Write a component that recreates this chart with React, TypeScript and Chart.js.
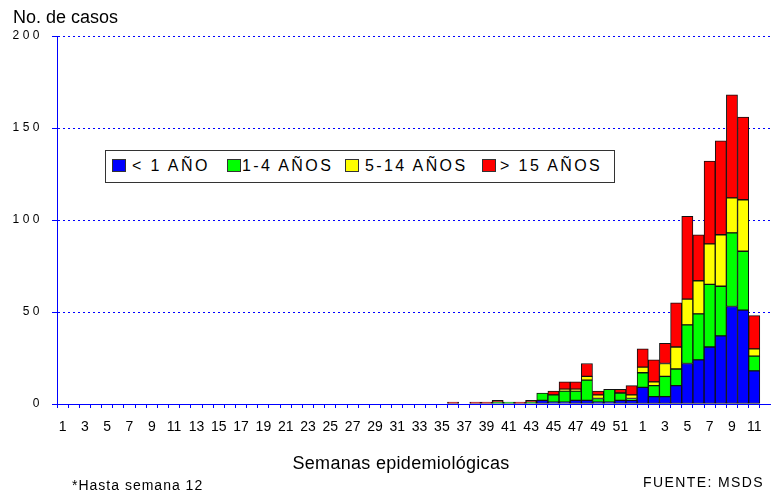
import React, { useEffect, useRef } from "react";
import { Chart, registerables, LinearScale } from "chart.js";

class SpacedLinearScale extends LinearScale {
  static id = "spacedLinear";
  static defaults = LinearScale.defaults;
  drawLabels(chartArea: any) {
    const ctx: any = (this as any).ctx;
    ctx.save();
    ctx.letterSpacing = "3.5px";
    super.drawLabels(chartArea);
    ctx.restore();
  }
}

Chart.register(...registerables, SpacedLinearScale as any);

// Epidemiological weeks: 52 weeks of year 1, then weeks 1-12 of year 2
const weekLabels = [
  "1", "2", "3", "4", "5", "6", "7", "8", "9", "10",
  "11", "12", "13", "14", "15", "16", "17", "18", "19", "20",
  "21", "22", "23", "24", "25", "26", "27", "28", "29", "30",
  "31", "32", "33", "34", "35", "36", "37", "38", "39", "40",
  "41", "42", "43", "44", "45", "46", "47", "48", "49", "50",
  "51", "52",
  "1", "2", "3", "4", "5", "6", "7", "8", "9", "10", "11", "12",
];

const menor1 = [
  0, 0, 0, 0, 0, 0, 0, 0, 0, 0,
  0, 0, 0, 0, 0, 0, 0, 0, 0, 0,
  0, 0, 0, 0, 0, 0, 0, 0, 0, 0,
  0, 0, 0, 0, 0, 0, 0, 0, 0, 0,
  0, 0, 0, 2, 1, 1, 2, 2, 1, 1,
  2, 2,
  9, 4, 4, 10, 22, 24, 31, 37, 53, 51, 18, 0,
];

const de1a4 = [
  0, 0, 0, 0, 0, 0, 0, 0, 0, 0,
  0, 0, 0, 0, 0, 0, 0, 0, 0, 0,
  0, 0, 0, 0, 0, 0, 0, 0, 0, 0,
  0, 0, 0, 0, 0, 0, 0, 0, 0, 1,
  1, 0, 1, 4, 4, 6, 5, 11, 2, 7,
  4, 1,
  8, 6, 11, 9, 21, 25, 34, 27, 40, 32, 8, 0,
];

const de5a14 = [
  0, 0, 0, 0, 0, 0, 0, 0, 0, 0,
  0, 0, 0, 0, 0, 0, 0, 0, 0, 0,
  0, 0, 0, 0, 0, 0, 0, 0, 0, 0,
  0, 0, 0, 0, 0, 0, 0, 0, 0, 0,
  0, 0, 0, 0, 0, 1, 1, 2, 2, 0,
  0, 2,
  3, 2, 7, 12, 14, 18, 22, 28, 19, 28, 4, 0,
];

const mayor15 = [
  0, 0, 0, 0, 0, 0, 0, 0, 0, 0,
  0, 0, 0, 0, 0, 0, 0, 0, 0, 0,
  0, 0, 0, 0, 0, 0, 0, 0, 0, 0,
  0, 0, 0, 0, 0, 1, 0, 1, 1, 1,
  0, 1, 1, 0, 2, 4, 4, 7, 2, 0,
  2, 5,
  10, 12, 11, 24, 45, 25, 45, 51, 56, 45, 18, 0,
];

const seriesNames = ["< 1 AÑO", "1-4 AÑOS", "5-14 AÑOS", "> 15 AÑOS"];
const seriesColors = ["#0000ff", "#00ff00", "#ffff00", "#ff0000"];
const yTicks = [0, 50, 100, 150, 200];

const FONT = "'Liberation Sans', Arial, Helvetica, sans-serif";
const BLUE = "#0000ff";

export default function App() {
  const canvasRef = useRef<HTMLCanvasElement | null>(null);

  useEffect(() => {
    document.body.style.margin = "0";
    const canvas = canvasRef.current;
    if (!canvas) return;
    const allSeries = [menor1, de1a4, de5a14, mayor15];
    const chart = new Chart(canvas, {
      type: "bar",
      data: {
        labels: weekLabels,
        datasets: allSeries.map((vals, i) => ({
          label: seriesNames[i],
          data: vals.map((v) => (v === 0 ? null : v)),
          backgroundColor: seriesColors[i],
          borderColor: "#111111",
          borderWidth: 1,
          borderSkipped: false,
          barPercentage: 1,
          categoryPercentage: 1,
        })),
      },
      options: {
        responsive: false,
        devicePixelRatio: 1,
        animation: false,
        events: [],
        layout: { padding: { top: 36, right: 0, left: 0, bottom: 0 } },
        plugins: {
          legend: { display: false },
          tooltip: { enabled: false },
          title: { display: false },
        },
        scales: {
          x: {
            stacked: true,
            offset: true,
            afterFit: (scale: any) => {
              scale.height = 88;
              scale.paddingRight = 0;
            },
            grid: {
              display: true,
              offset: true,
              drawOnChartArea: false,
              drawTicks: true,
              tickLength: 4,
              color: BLUE,
              tickColor: BLUE,
              tickBorderDash: [],
            },
            border: { display: true, color: BLUE, width: 1 },
            ticks: {
              autoSkip: false,
              maxRotation: 0,
              minRotation: 0,
              padding: 11,
              color: "#000",
              font: { family: FONT, size: 14 },
              callback: (_v: any, idx: number) => (idx % 2 === 0 ? weekLabels[idx] : ""),
            },
          },
          y: {
            type: "spacedLinear" as any,
            stacked: true,
            min: 0,
            max: 200,
            afterFit: (scale: any) => {
              scale.width = 57;
            },
            afterBuildTicks: (scale: any) => {
              scale.ticks = yTicks.map((v) => ({ value: v }));
            },
            grid: {
              display: true,
              drawOnChartArea: true,
              drawTicks: true,
              tickLength: 5,
              color: BLUE,
              tickColor: BLUE,
              tickBorderDash: [],
              lineWidth: 1,
            },
            border: { display: true, color: BLUE, width: 1, dash: [2, 3] },
            ticks: {
              padding: 9,
              color: "#000",
              font: { family: FONT, size: 12 },
              callback: (v: any) => String(v),
            },
          },
        },
      } as any,
    });
    return () => chart.destroy();
  }, []);

  const legendKeys = [112, 227, 345, 482];
  const legendTexts = [132, 242, 365, 500];

  return (
    <div
      style={{
        position: "absolute",
        left: 0,
        top: 0,
        width: 771,
        height: 492,
        background: "#fff",
        fontFamily: FONT,
        color: "#000",
        overflow: "hidden",
      }}
    >
      <canvas ref={canvasRef} width={771} height={492} style={{ position: "absolute", left: 0, top: 0, width: 771, height: 492 }} />
      <div style={{ position: "absolute", left: 13, top: 7.5, fontSize: 18, lineHeight: 1, whiteSpace: "nowrap" }}>No. de casos</div>
      <div style={{ position: "absolute", left: 292.5, top: 453.5, fontSize: 18, lineHeight: 1, letterSpacing: "0.3px", whiteSpace: "nowrap" }}>
        Semanas epidemiológicas
      </div>
      <div style={{ position: "absolute", left: 72, top: 478, fontSize: 14, lineHeight: 1, letterSpacing: "1px", whiteSpace: "nowrap" }}>
        *Hasta semana 12
      </div>
      <div style={{ position: "absolute", left: 643, top: 475, fontSize: 14, lineHeight: 1, letterSpacing: "1.4px", whiteSpace: "nowrap" }}>
        FUENTE: MSDS
      </div>
      <div
        style={{
          position: "absolute",
          left: 105,
          top: 150,
          width: 510,
          height: 33,
          boxSizing: "border-box",
          border: "1px solid #333",
          background: "#fff",
        }}
      />
      {seriesNames.map((name, i) => (
        <React.Fragment key={name}>
          <div
            style={{
              position: "absolute",
              left: legendKeys[i],
              top: 159,
              width: 14,
              height: 13,
              boxSizing: "border-box",
              border: "1px solid #333",
              background: seriesColors[i],
            }}
          />
          <div
            style={{
              position: "absolute",
              left: legendTexts[i],
              top: 158.2,
              fontSize: 16,
              lineHeight: 1,
              letterSpacing: "2.4px",
              whiteSpace: "nowrap",
            }}
          >
            {name}
          </div>
        </React.Fragment>
      ))}
    </div>
  );
}
